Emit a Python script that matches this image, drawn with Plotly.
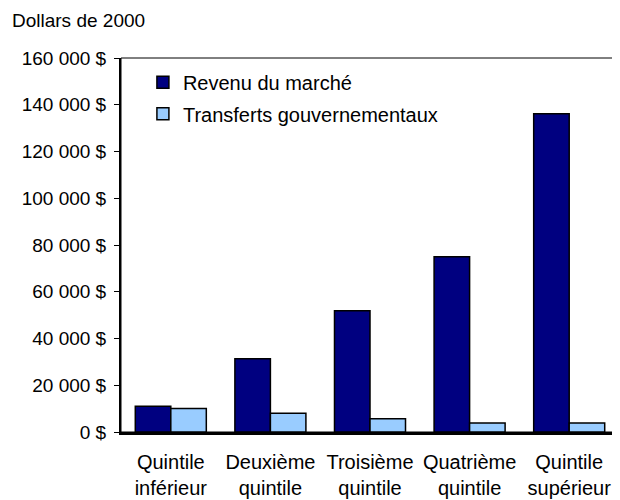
import plotly.graph_objects as go

categories = ["Quintile<br>inférieur", "Deuxième<br>quintile", "Troisième<br>quintile",
              "Quatrième<br>quintile", "Quintile<br>supérieur"]
revenu_marche = [11000, 31300, 51900, 75000, 136200]
transferts = [10100, 8000, 5700, 3900, 3900]
ytick_vals = [0, 20000, 40000, 60000, 80000, 100000, 120000, 140000, 160000]
ytick_text = ["0 $", "20 000 $", "40 000 $", "60 000 $", "80 000 $",
              "100 000 $", "120 000 $", "140 000 $", "160 000 $"]

FONT = "Liberation Sans, Arial, sans-serif"
FS = 19

# page body has an 8px margin, so the figure is 8px smaller and everything sits 8px up/left
fig = go.Figure()
fig.add_trace(go.Bar(x=categories, y=revenu_marche, name="Revenu du marché",
                     marker=dict(color="#000080", line=dict(color="black", width=1.5)),
                     legend="legend"))
fig.add_trace(go.Bar(x=categories, y=transferts, name="Transferts gouvernementaux",
                     marker=dict(color="#99CCFF", line=dict(color="black", width=1.5)),
                     legend="legend2"))

fig.update_layout(
    width=612, height=492,
    margin=dict(l=113, r=1, t=50, b=68, autoexpand=False),
    paper_bgcolor="white", plot_bgcolor="white",
    font=dict(family=FONT, size=FS, color="black"),
    barmode="group", bargap=0.287, bargroupgap=0,
    showlegend=True,
    legend=dict(x=0.044, y=0.987, xanchor="left", yanchor="top",
                bgcolor="rgba(0,0,0,0)", font=dict(size=20), itemwidth=30),
    legend2=dict(x=0.044, y=0.903, xanchor="left", yanchor="top",
                 bgcolor="rgba(0,0,0,0)", font=dict(size=20), itemwidth=30),
    xaxis=dict(showline=True, linecolor="black", linewidth=3, ticks="",
               tickfont=dict(size=20), showgrid=False, automargin=False,
               ticklabelstandoff=10),
    yaxis=dict(range=[0, 160000], tickvals=ytick_vals, ticktext=ytick_text,
               showline=True, linecolor="black", linewidth=2, ticks="outside",
               ticklen=5, tickwidth=1, tickcolor="black", showgrid=False,
               zeroline=False, tickfont=dict(size=FS), ticklabelstandoff=4,
               automargin=False),
    shapes=[dict(type="rect", xref="paper", yref="paper", x0=0, x1=1, y0=0, y1=1,
                 line=dict(color="black", width=1), layer="below")],
    annotations=[dict(text="Dollars de 2000", xref="paper", yref="paper",
                      x=-0.223, y=1.10, xanchor="left", yanchor="middle",
                      showarrow=False, font=dict(size=FS))],
)

fig.write_html("out.html")
